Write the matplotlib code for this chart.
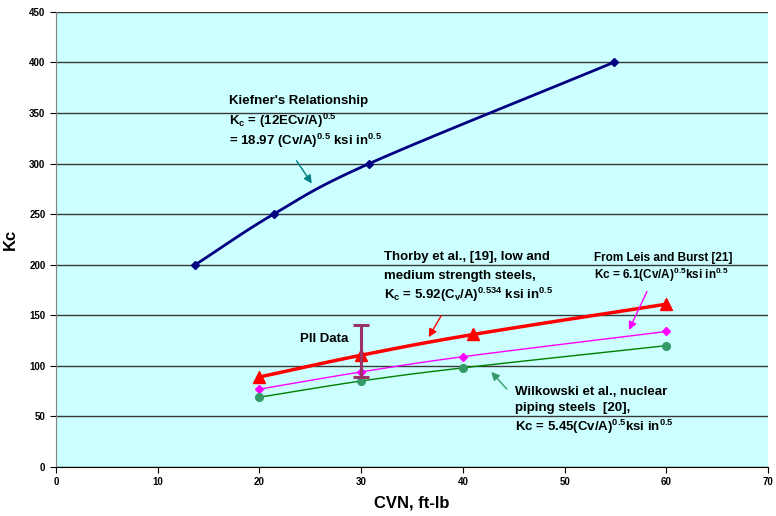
import matplotlib
matplotlib.use("Agg")
import matplotlib.pyplot as plt
import numpy as np

plt.rcParams["font.family"] = ["Liberation Sans", "DejaVu Sans"]
plt.rcParams["font.weight"] = "bold"
plt.rcParams["mathtext.fontset"] = "custom"
plt.rcParams["mathtext.rm"] = "Liberation Sans:bold"
plt.rcParams["mathtext.bf"] = "Liberation Sans:bold"
plt.rcParams["mathtext.it"] = "Liberation Sans:bold"
plt.rcParams["mathtext.default"] = "bf"

# Kiefner's relationship
kiefner_cvn = [13.7, 21.4, 30.8, 54.8]
kiefner_kc = [200, 250, 300, 400]

# Thorby et al.
thorby_cvn = [20, 30, 41, 60]
thorby_kc = [89, 110.5, 131, 161]

# Leis and Burst
leis_cvn = [20, 30, 40, 60]
leis_kc = [77, 94, 109, 134]

# Wilkowski et al.
wilk_cvn = [20, 30, 40, 60]
wilk_kc = [69, 85, 98, 120]

# PII data range
pii_cvn = 30
pii_low, pii_high = 89, 140


def smooth(xs, ys, n=30):
    """Catmull-Rom style smoothing, like Excel's smoothed line."""
    pts = np.column_stack([xs, ys]).astype(float)
    p = np.vstack([pts[0] * 2 - pts[1], pts, pts[-1] * 2 - pts[-2]])
    out = []
    t = np.linspace(0, 1, n)[:, None]
    for i in range(1, len(p) - 2):
        p0, p1, p2, p3 = p[i - 1], p[i], p[i + 1], p[i + 2]
        seg = 0.5 * ((2 * p1) + (-p0 + p2) * t
                     + (2 * p0 - 5 * p1 + 4 * p2 - p3) * t ** 2
                     + (-p0 + 3 * p1 - 3 * p2 + p3) * t ** 3)
        out.append(seg)
    seg = np.vstack(out)
    return seg[:, 0], seg[:, 1]


fig = plt.figure(figsize=(7.76, 5.16), dpi=100)
ax = fig.add_axes([0.072, 0.095, 0.918, 0.882])
ax.set_facecolor("#CCFFFF")

ax.set_xlim(0, 70)
ax.set_ylim(0, 450)
ax.set_xticks(range(0, 71, 10))
ax.set_yticks(range(0, 451, 50))
ax.yaxis.grid(True, color="#383838", linewidth=1)
ax.set_axisbelow(True)
for s in ["top", "right"]:
    ax.spines[s].set_visible(False)
ax.spines["left"].set_color("#808080")
ax.spines["bottom"].set_color("black")
ax.tick_params(labelsize=7, length=4, direction="out", width=0.8)
for lbl in ax.get_xticklabels() + ax.get_yticklabels():
    lbl.set_fontweight("bold")

ax.set_xlabel("CVN, ft-lb", fontsize=12, fontweight="bold", labelpad=6)
ax.set_ylabel("Kc", fontsize=12, fontweight="bold", labelpad=8)

kx, ky = smooth(kiefner_cvn, kiefner_kc)
ax.plot(kx, ky, color="#000080", linewidth=2)
ax.plot(kiefner_cvn, kiefner_kc, linestyle="none", marker="D",
        markersize=4.5, color="#000080")

tx, ty = smooth(thorby_cvn, thorby_kc)
ax.plot(tx, ty, color="red", linewidth=2.5)
ax.plot(thorby_cvn, thorby_kc, linestyle="none", marker="^",
        markersize=8, color="red")

lx, ly = smooth(leis_cvn, leis_kc)
ax.plot(lx, ly, color="magenta", linewidth=1)
ax.plot(leis_cvn, leis_kc, linestyle="none", marker="D",
        markersize=4, color="magenta")

wx, wy = smooth(wilk_cvn, wilk_kc)
ax.plot(wx, wy, color="green", linewidth=1)
ax.plot(wilk_cvn, wilk_kc, linestyle="none", marker="o",
        markersize=5.5, color="#339966")

ax.errorbar([pii_cvn], [(pii_low + pii_high) / 2],
            yerr=[[(pii_high - pii_low) / 2]], fmt="none",
            ecolor="#993366", elinewidth=2.2, capsize=6, capthick=2.2)

fs = 9.5
ax.text(17.0, 362, "Kiefner's Relationship", fontsize=fs, va="center")
ax.text(17.0, 342, r"K$_\mathbf{c}$ = (12ECv/A)$^\mathbf{0.5}$",
        fontsize=fs, va="center")
ax.text(17.0, 322, r"= 18.97 (Cv/A)$^\mathbf{0.5}$ ksi in$^\mathbf{0.5}$",
        fontsize=fs, va="center")
ax.annotate("", xy=(25.3, 278), xytext=(23.5, 305),
            arrowprops=dict(arrowstyle="-|>", color="#008080", lw=1,
                            mutation_scale=12))

ax.text(32.2, 208, "Thorby et al., [19], low and", fontsize=fs, va="center")
ax.text(32.2, 189, "medium strength steels,", fontsize=fs, va="center")
ax.text(32.2, 170, r"K$_\mathbf{c}$ = 5.92(C$_\mathbf{v}$/A)$^\mathbf{0.534}$ ksi in$^\mathbf{0.5}$",
        fontsize=fs, va="center")
ax.annotate("", xy=(36.5, 126), xytext=(38.0, 152),
            arrowprops=dict(arrowstyle="-|>", color="red", lw=1,
                            mutation_scale=12))

ax.text(52.9, 207, "From Leis and Burst [21]", fontsize=8.5, va="center")
ax.text(52.9, 190, r"Kc = 6.1(Cv/A)$^\mathbf{0.5}$ksi in$^\mathbf{0.5}$",
        fontsize=8.5, va="center")
ax.annotate("", xy=(56.2, 133), xytext=(58.2, 176),
            arrowprops=dict(arrowstyle="-|>", color="magenta", lw=1,
                            mutation_scale=12))

ax.text(45.1, 74, "Wilkowski et al., nuclear", fontsize=fs, va="center")
ax.text(45.1, 58, "piping steels  [20],", fontsize=fs, va="center")
ax.text(45.1, 40, r"Kc = 5.45(Cv/A)$^\mathbf{0.5}$ksi in$^\mathbf{0.5}$",
        fontsize=fs, va="center")
ax.annotate("", xy=(42.6, 96), xytext=(44.5, 75),
            arrowprops=dict(arrowstyle="-|>", color="#339966", lw=1,
                            mutation_scale=12))

ax.text(24.0, 127, "PII Data", fontsize=fs, va="center")

fig.savefig("out.png", dpi=100)
plt.close(fig)
